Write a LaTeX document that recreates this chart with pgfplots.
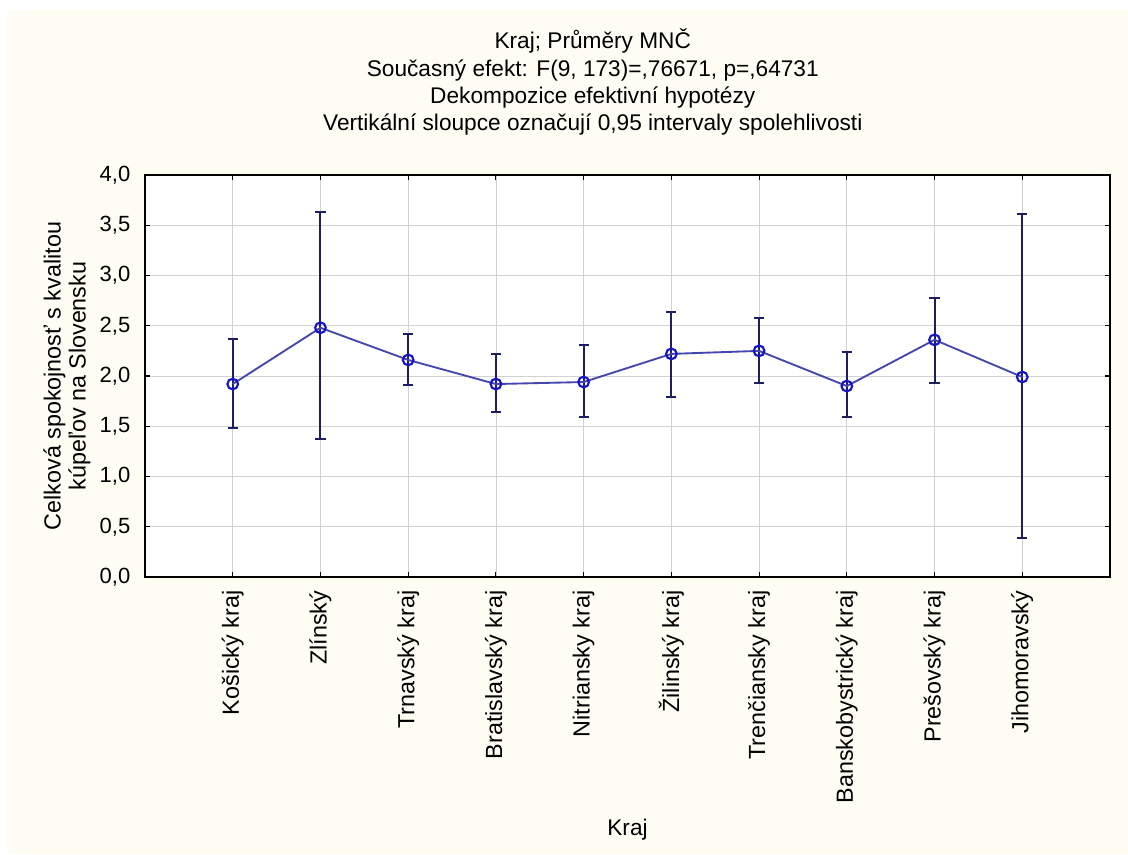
\documentclass[border=0pt]{standalone}
\usepackage{pgfplots}
\pgfplotsset{compat=1.18}
\usepackage{pgfplotstable}
\usepackage{fontspec}
\setmainfont{Liberation Sans}
\definecolor{cream}{RGB}{255,253,243}
\definecolor{linecol}{RGB}{70,70,175}
\definecolor{barcol}{RGB}{30,30,100}
\definecolor{markcol}{RGB}{20,20,200}
\pgfplotstableread{
x y ep em
0 1.92 0.45 0.44
1 2.48 1.15 1.11
2 2.16 0.26 0.25
3 1.92 0.30 0.28
4 1.94 0.37 0.35
5 2.22 0.42 0.43
6 2.25 0.33 0.32
7 1.90 0.34 0.31
8 2.36 0.42 0.43
9 1.99 1.62 1.60
}\data
\begin{document}
\begin{tikzpicture}
\fill[white] (-108.75pt,-207.75pt) rectangle (737.25pt,432.75pt);
\fill[cream] (-103.5pt,-207.75pt) rectangle (737.25pt,425.25pt);
\begin{axis}[
  at={(0,0)}, anchor=south west,
  width=723.75pt, height=301.5pt, scale only axis,
  xmin=-1, xmax=10, ymin=0, ymax=4,
  axis background/.style={fill=white},
  xtick={0,...,9},
  xticklabels={Košický kraj,Zlínský,Trnavský kraj,Bratislavský kraj,Nitriansky kraj,Žilinský kraj,Trenčiansky kraj,Banskobystrický kraj,Prešovský kraj,Jihomoravský},
  ytick={0,0.5,...,4},
  /pgf/number format/assume math mode=true,
  yticklabel style={/pgf/number format/.cd, fixed, fixed zerofill, precision=1, use comma, /tikz/.cd, xshift=-7.5pt, font=\fontsize{16.5}{19}\selectfont},
  xticklabel style={rotate=90, anchor=east, xshift=-6.75pt, font=\fontsize{17.5}{20}\selectfont},
  tick align=inside,
  major tick length=4pt,
  tick style={black, line width=0.8pt},
  grid=major,
  major grid style={gray!35, line width=0.6pt},
  axis line style={black, line width=1pt},
  title={Kraj; Průměry MNČ\\Současný efekt: F(9, 173)=,76671, p=,64731\\Dekompozice efektivní hypotézy\\Vertikální sloupce označují 0,95 intervaly spolehlivosti},
  title style={at={(axis description cs:0.464,1)}, anchor=center, yshift=63.5pt, align=center, font=\fontsize{17}{20.5}\selectfont},
  xlabel={Kraj},
  xlabel style={at={(axis description cs:0.5,0)}, anchor=center, yshift=-189.5pt, font=\fontsize{17}{20}\selectfont},
  ylabel={Celková spokojnosť s kvalitou\\kúpeľov na Slovensku},
  ylabel style={at={(axis description cs:0,0.5)}, anchor=center, yshift=58.5pt, align=center, font=\fontsize{17.5}{18.75}\selectfont},
]
\addplot[draw=none, mark=none, error bars/.cd, y dir=both, y explicit,
  error bar style={barcol, line width=1.5pt},
  error mark options={rotate=90, mark size=3.8pt, barcol, line width=1.5pt}]
  table[x=x, y=y, y error plus=ep, y error minus=em] {\data};
\addplot[linecol, line width=1.4pt, mark=o, mark size=4pt,
  mark options={markcol, line width=1.6pt}]
  table[x=x, y=y] {\data};
\end{axis}
\pgfresetboundingbox
\path[use as bounding box] (-108.75pt,-207.75pt) rectangle (737.25pt,432.75pt);
\end{tikzpicture}
\end{document}
